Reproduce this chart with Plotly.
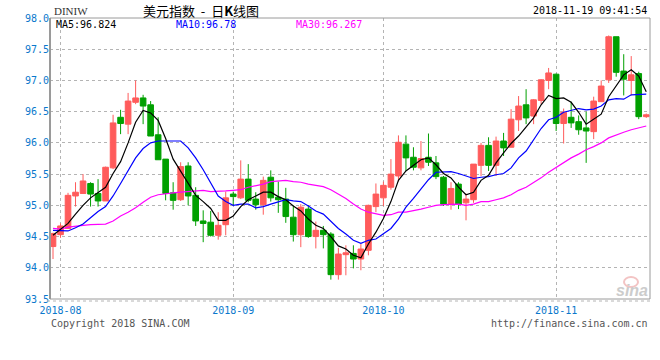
import pandas as pd
import plotly.graph_objects as go

# ---------------- data ----------------
dates = pd.bdate_range("2018-07-31", "2018-11-19")  # 80 trading days

opens = [94.34, 94.53, 94.63, 95.15, 95.19, 95.35, 95.19, 95.07, 95.60, 96.41,
         96.30, 96.65, 96.72, 96.61, 96.13, 95.74, 95.20, 95.09, 95.63, 95.16,
         94.75, 94.73, 94.52, 94.69, 95.18, 95.12, 95.42, 95.10, 95.01, 95.45,
         95.13, 95.10, 94.81, 94.53, 94.94, 94.50, 94.60, 94.54, 93.89, 94.21,
         94.23, 94.14, 94.28, 94.98, 95.12, 95.29, 95.47, 95.98, 95.77, 95.60,
         95.77, 95.68, 95.45, 95.02, 95.34, 95.04, 95.09, 95.64, 95.96, 95.64,
         96.03, 95.93, 96.37, 96.61, 96.43, 96.68, 97.00, 97.10, 96.31, 96.41,
         96.34, 96.24, 96.18, 96.66, 97.01, 97.70, 97.15, 97.00, 97.11, 96.42]
highs = [94.56, 94.71, 95.20, 95.37, 95.50, 95.37, 95.42, 95.62, 96.45, 96.53,
         96.80, 97.00, 96.77, 96.67, 96.41, 95.74, 95.37, 95.69, 95.69, 95.29,
         94.92, 94.91, 94.89, 95.22, 95.22, 95.72, 95.66, 95.21, 95.46, 95.56,
         95.38, 95.28, 95.00, 95.02, 95.00, 94.74, 94.67, 94.57, 94.32, 94.36,
         94.36, 94.38, 95.01, 95.35, 95.38, 95.74, 96.12, 96.12, 95.93, 96.03,
         96.15, 95.79, 95.47, 95.37, 95.37, 95.19, 95.66, 96.00, 96.09, 96.10,
         96.16, 96.54, 96.75, 96.86, 96.70, 97.02, 97.20, 97.11, 96.55, 96.66,
         96.44, 96.50, 96.74, 97.00, 97.72, 97.70, 97.42, 97.39, 97.14, 96.47]
lows = [94.14, 94.48, 94.62, 94.98, 95.19, 94.98, 94.98, 95.07, 95.58, 96.14,
        96.14, 96.62, 96.30, 96.11, 95.73, 95.08, 94.93, 95.07, 95.00, 94.67,
        94.41, 94.50, 94.45, 94.52, 95.00, 95.10, 95.05, 94.93, 94.85, 95.06,
        94.88, 94.72, 94.42, 94.33, 94.48, 94.31, 94.31, 93.81, 93.81, 93.88,
        93.99, 93.96, 94.20, 94.89, 94.99, 95.25, 95.38, 95.55, 95.56, 95.56,
        95.63, 95.42, 94.99, 94.93, 94.94, 94.76, 95.04, 95.47, 95.55, 95.47,
        95.79, 95.93, 96.19, 96.30, 96.30, 96.62, 96.86, 96.19, 95.99, 96.24,
        96.13, 95.68, 96.06, 96.66, 96.96, 97.06, 96.76, 96.76, 96.38, 96.40]
closes = [94.55, 94.67, 95.16, 95.21, 95.39, 95.18, 95.07, 95.61, 96.32, 96.31,
          96.67, 96.72, 96.59, 96.11, 95.73, 95.19, 95.08, 95.62, 95.15, 94.75,
          94.71, 94.52, 94.68, 95.12, 95.14, 95.42, 95.08, 95.01, 95.40, 95.12,
          95.09, 94.82, 94.53, 94.97, 94.50, 94.60, 94.53, 93.89, 94.22, 94.24,
          94.14, 94.30, 95.00, 95.18, 95.32, 95.50, 96.01, 95.76, 95.61, 95.75,
          95.69, 95.46, 95.02, 95.27, 95.02, 95.10, 95.66, 95.96, 95.64, 96.03,
          95.92, 96.38, 96.59, 96.40, 96.69, 97.01, 97.12, 96.31, 96.49, 96.32,
          96.21, 96.19, 96.67, 96.91, 97.70, 97.13, 97.02, 97.09, 96.42, 96.45]

ma5 = [94.52, 94.62, 94.71, 94.86, 95.00, 95.12, 95.20, 95.29, 95.51, 95.70,
       96.00, 96.33, 96.52, 96.48, 96.36, 96.07, 95.74, 95.55, 95.35, 95.16,
       95.06, 94.95, 94.76, 94.76, 94.83, 94.98, 95.09, 95.15, 95.21, 95.21,
       95.14, 95.09, 94.99, 94.91, 94.78, 94.68, 94.63, 94.50, 94.35, 94.30,
       94.20, 94.16, 94.38, 94.57, 94.79, 95.06, 95.40, 95.55, 95.64, 95.73,
       95.76, 95.65, 95.51, 95.44, 95.29, 95.17, 95.21, 95.40, 95.48, 95.68,
       95.84, 95.99, 96.11, 96.26, 96.40, 96.61, 96.76, 96.71, 96.72, 96.65,
       96.49, 96.30, 96.38, 96.46, 96.74, 96.92, 97.09, 97.17, 97.07, 96.82]
ma10 = [94.60, 94.59, 94.59, 94.64, 94.70, 94.80, 94.90, 94.98, 95.15, 95.35,
        95.56, 95.76, 95.91, 96.00, 96.03, 96.03, 96.03, 96.03, 95.92, 95.76,
        95.57, 95.35, 95.15, 95.06, 95.00, 95.02, 95.02, 94.96, 94.98, 95.02,
        95.06, 95.09, 95.07, 95.06, 94.99, 94.91, 94.86, 94.75, 94.63, 94.54,
        94.44, 94.39, 94.44, 94.46, 94.54, 94.63, 94.78, 94.97, 95.11, 95.26,
        95.41, 95.53, 95.53, 95.54, 95.51, 95.47, 95.43, 95.45, 95.46, 95.49,
        95.51, 95.60, 95.76, 95.87, 96.04, 96.23, 96.37, 96.41, 96.49, 96.52,
        96.55, 96.53, 96.54, 96.59, 96.69, 96.71, 96.70, 96.77, 96.77, 96.78]
ma30 = [94.63, 94.62, 94.65, 94.67, 94.68, 94.69, 94.69, 94.70, 94.75, 94.83,
        94.89, 94.96, 95.05, 95.13, 95.17, 95.19, 95.20, 95.21, 95.22, 95.24,
        95.24, 95.22, 95.22, 95.23, 95.24, 95.25, 95.29, 95.31, 95.34, 95.38,
        95.39, 95.40, 95.38, 95.37, 95.34, 95.32, 95.30, 95.25, 95.18, 95.11,
        95.02, 94.94, 94.89, 94.86, 94.84, 94.85, 94.89, 94.89, 94.91, 94.94,
        94.97, 95.00, 95.01, 95.02, 95.02, 95.00, 95.02, 95.06, 95.06, 95.09,
        95.12, 95.17, 95.24, 95.29, 95.36, 95.44, 95.53, 95.61, 95.69, 95.76,
        95.82, 95.89, 95.94, 96.00, 96.08, 96.13, 96.17, 96.21, 96.24, 96.27]

y_ticks = [98.0, 97.5, 97.0, 96.5, 96.0, 95.5, 95.0, 94.5, 94.0, 93.5]
ma_labels = ["MA5:96.824", "MA10:96.78", "MA30:96.267"]
symbol_text = "DINIW"
title_text = "美元指数\u00a0\u00a0-\u00a0\u00a0日<b>K</b>线图"
timestamp_text = "2018-11-19 09:41:54"
copyright_text = "Copyright 2018 SINA.COM"
url_text = "http://finance.sina.com.cn"

# ---------------- styling ----------------
W, H = 660, 360
L, R, T, B = 50, 10, 18, 61
PW, PH = W - L - R, H - T - B
RED = "#ff5b5b"
GREEN = "#00a000"
BLUE_TXT = "#0a78cc"
GRID = "#b4b4b4"
BORDER = "#9a9a9a"
MONO = "DejaVu Sans Mono"


def px(x):
    return (x - L) / PW


def py(y):
    return (H - B - y) / PH


idx = list(range(len(dates)))
month_pos = [i for i in idx if i > 0 and dates[i].month != dates[i - 1].month]
month_text = [dates[i].strftime("%Y-%m") for i in month_pos]

fig = go.Figure()
fig.add_trace(go.Candlestick(
    x=idx, open=opens, high=highs, low=lows, close=closes,
    increasing=dict(line=dict(color=RED, width=1), fillcolor=RED),
    decreasing=dict(line=dict(color=GREEN, width=1), fillcolor=GREEN),
    whiskerwidth=0, showlegend=False, hoverinfo="skip",
))
for vals, col in [(ma30, "#ff00ff"), (ma10, "#0000ff"), (ma5, "#000000")]:
    fig.add_trace(go.Scatter(x=idx, y=vals, mode="lines",
                             line=dict(color=col, width=1.2),
                             showlegend=False, hoverinfo="skip"))

fig.update_layout(
    width=W, height=H, margin=dict(l=L, r=R, t=T, b=B, pad=0),
    paper_bgcolor="white", plot_bgcolor="white",
    boxgap=0.25, boxgroupgap=0,
    showlegend=False,
    xaxis=dict(range=[-0.4, 79.5], tickvals=month_pos, ticktext=month_text,
               showgrid=True, gridcolor=GRID, griddash="dot", gridwidth=1,
               zeroline=False, showline=False, ticks="",
               ticklabelstandoff=4,
               tickfont=dict(family=MONO, size=10, color=BLUE_TXT),
               rangeslider=dict(visible=False), fixedrange=True),
    yaxis=dict(range=[93.5, 98.0], tickvals=y_ticks,
               ticktext=[f"{v:.1f}" for v in y_ticks],
               showgrid=True, gridcolor=GRID, griddash="dot", gridwidth=1,
               zeroline=False, showline=False, ticks="",
               tickfont=dict(family=MONO, size=10, color=BLUE_TXT),
               fixedrange=True),
)

shapes = [
    dict(type="rect", xref="paper", yref="paper", x0=0, x1=1, y0=0, y1=1,
         line=dict(color=BORDER, width=1), layer="above"),
    dict(type="line", xref="paper", yref="paper", x0=0, x1=0, y0=0, y1=1,
         line=dict(color=BORDER, width=2), layer="above"),
    dict(type="line", xref="paper", yref="paper", x0=px(47), x1=px(650),
         y0=py(301), y1=py(301), line=dict(color=GRID, width=1, dash="dot")),
    dict(type="circle", xref="paper", yref="paper", x0=px(624), x1=px(638),
         y0=py(287), y1=py(277), line=dict(color="#f3c4c4", width=2)),
]
fig.update_layout(shapes=shapes)

ann = []


def text(x, y, s, color, size, family=MONO, xanchor="left"):
    ann.append(dict(x=px(x), y=py(y), xref="paper", yref="paper", text=s,
                    showarrow=False, xanchor=xanchor, yanchor="middle",
                    font=dict(family=family, size=size, color=color)))


text(52, 11, symbol_text, "#333333", 11, family="Liberation Serif")
text(201, 11, title_text, "#000000", 13, family="Noto Sans CJK SC", xanchor="center")
text(649, 11, timestamp_text, "#000000", 10, xanchor="right")
text(54, 24, ma_labels[0], "#000000", 10)
text(174, 24, ma_labels[1], "#0000ff", 10)
text(294, 24, ma_labels[2], "#ff00ff", 10)
text(49, 323, copyright_text, "#555555", 10)
text(650, 323, url_text, "#555555", 10, xanchor="right")
text(632, 290, "<b><i>sina</i></b>", "#cccccc", 16, family="Liberation Sans", xanchor="center")
fig.update_layout(annotations=ann)

fig.write_html("out.html")
